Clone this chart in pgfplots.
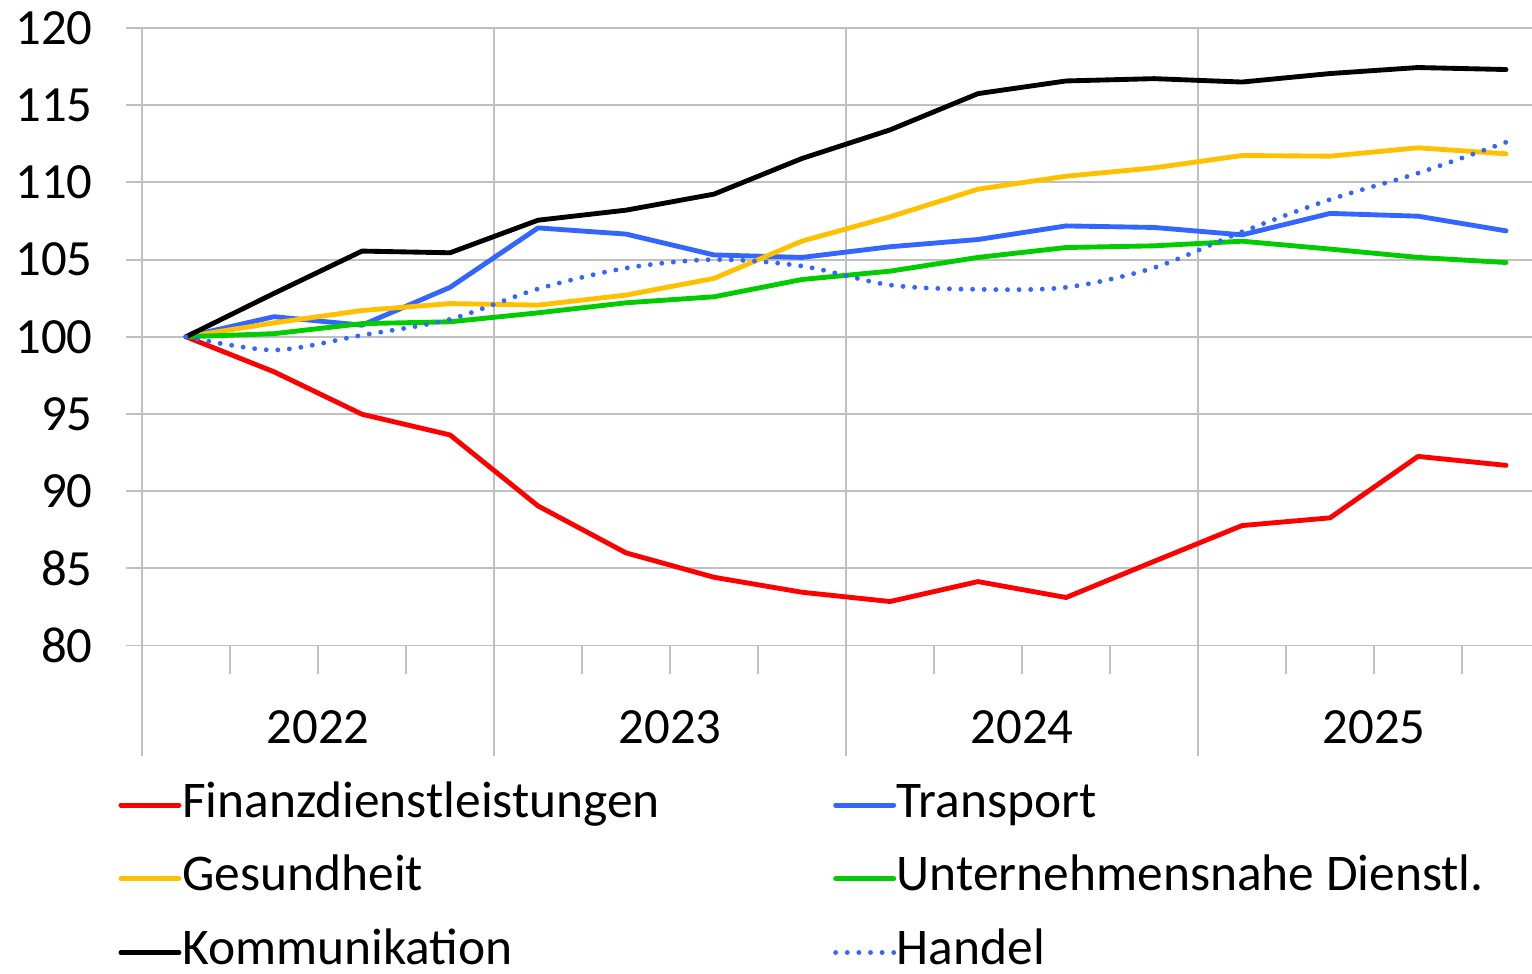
\documentclass[border=0pt]{standalone}
\usepackage{pgfplots}
\pgfplotsset{compat=1.18}
\usepackage{fontspec}
\setmainfont{Carlito}
\definecolor{cRed}{HTML}{FF0000}
\definecolor{cBlue}{HTML}{3366FF}
\definecolor{cYel}{HTML}{FFC000}
\definecolor{cGreen}{HTML}{00CC00}
\definecolor{cGrid}{HTML}{C0C0C0}
\begin{document}
\begin{tikzpicture}
\begin{axis}[
  name=ax,
  scale only axis,
  width=514.8bp, height=228.7bp,
  xmin=-0.5, xmax=15.295,
  ymin=80, ymax=120,
  ytick={80,85,...,120},
  xtick={1.5,5.5,9.5,13.5},
  xticklabels={2022,2023,2024,2025},
  xticklabel style={anchor=center, yshift=-24.4bp},
  minor xtick={0.5,1.5,2.5,4.5,5.5,6.5,8.5,9.5,10.5,12.5,13.5,14.5},
  extra x ticks={-0.5,3.5,7.5,11.5},
  extra x tick labels={},
  extra x tick style={major tick length=41.1bp, xmajorgrids=true},
  axis lines*=left,
  axis line style={draw=cGrid, line width=0.7bp, -},
  tick align=outside,
  major tick length=5.9bp,
  minor tick length=10.7bp,
  tick style={draw=cGrid, line width=0.7bp},
  minor tick style={draw=cGrid, line width=0.7bp},
  xmajorgrids=false, ymajorgrids=true,
  grid style={draw=cGrid, line width=0.7bp},
  ticklabel style={font=\fontsize{18.8bp}{22bp}\selectfont},
  yticklabel style={anchor=east, inner xsep=0pt, xshift=-12.2bp},
  /pgf/number format/assume math mode=true,
  legend columns=2,
  legend cell align=left,
  legend style={at={(rel axis cs:0,0)}, anchor=north west, xshift=-8.9bp, yshift=-50.4bp,
     draw=none, fill=none, inner sep=0pt, row sep=10.3bp,
     font=\fontsize{19.05bp}{22bp}\selectfont,
     nodes={inner xsep=0.3bp, inner ysep=0pt, text height=13bp, text depth=4bp},
     /tikz/column 2/.style={column sep=63.8bp}},
  legend image code/.code={\draw[#1] (0bp,0bp) -- (21.5bp,0bp);},
  every axis plot/.append style={line width=1.8bp, line cap=round, line join=round},
]
\addplot[cRed] coordinates {(0,100) (1,97.73) (2,94.98) (3,93.64) (4,89.04) (5,86.0) (6,84.42) (7,83.45) (8,82.85) (9,84.14) (10,83.11) (11,85.45) (12,87.77) (13,88.27) (14,92.25) (15,91.67)};
\addlegendentry{Finanzdienstleistungen}
\addplot[cBlue] coordinates {(0,100) (1,101.3) (2,100.75) (3,103.2) (4,107.05) (5,106.65) (6,105.3) (7,105.14) (8,105.83) (9,106.3) (10,107.18) (11,107.08) (12,106.6) (13,107.99) (14,107.81) (15,106.86)};
\addlegendentry{Transport}
\addplot[cYel] coordinates {(0,100) (1,100.9) (2,101.7) (3,102.15) (4,102.05) (5,102.7) (6,103.78) (7,106.2) (8,107.77) (9,109.56) (10,110.4) (11,110.94) (12,111.74) (13,111.7) (14,112.24) (15,111.85)};
\addlegendentry{Gesundheit}
\addplot[cGreen] coordinates {(0,100) (1,100.2) (2,100.85) (3,100.97) (4,101.55) (5,102.2) (6,102.59) (7,103.71) (8,104.25) (9,105.14) (10,105.78) (11,105.89) (12,106.19) (13,105.68) (14,105.14) (15,104.81)};
\addlegendentry{Unternehmensnahe Dienstl.}
\addplot[black] coordinates {(0,100) (1,102.81) (2,105.55) (3,105.44) (4,107.55) (5,108.2) (6,109.24) (7,111.55) (8,113.4) (9,115.75) (10,116.57) (11,116.72) (12,116.5) (13,117.05) (14,117.44) (15,117.31)};
\addlegendentry{Kommunikation}
\addplot[cBlue, smooth, tension=0.5, dash pattern=on 0bp off 4.3bp] coordinates {(0,100) (1,99.14) (2,100.1) (3,101.13) (4,103.1) (5,104.45) (6,105.0) (7,104.58) (8,103.35) (9,103.07) (10,103.2) (11,104.47) (12,106.8) (13,108.89) (14,110.6) (15,112.6)};
\addlegendentry{Handel}
\end{axis}
\pgfresetboundingbox
\path[use as bounding box] ([xshift=-52.593bp,yshift=-121.48bp]ax.south west) rectangle ([yshift=10.37bp]ax.north east);
\end{tikzpicture}
\end{document}
